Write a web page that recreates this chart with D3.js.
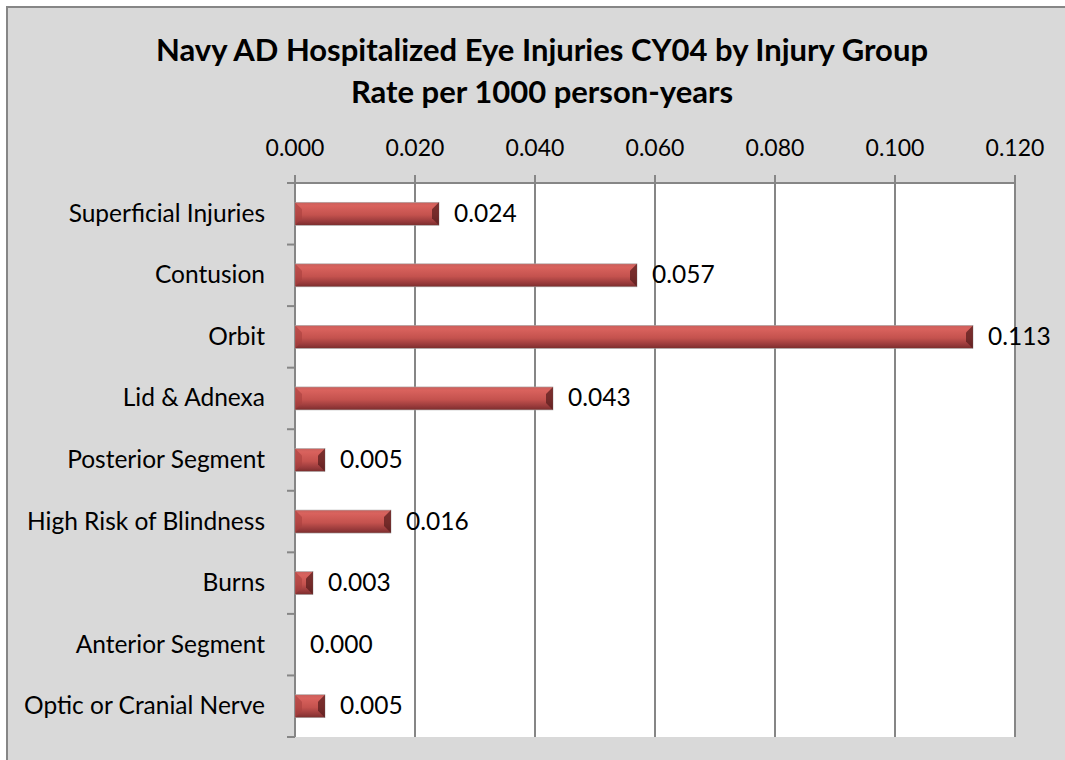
<!DOCTYPE html>
<html>
<head>
<meta charset="utf-8">
<script src="https://cdn.jsdelivr.net/npm/d3@7"></script>
<style>
  body { margin: 0; background: #fff; }
  text { font-family: Lato, "Open Sans", sans-serif; fill: #000; }
</style>
</head>
<body>
<div id="chart"></div>
<script>
const categories = ["Superficial Injuries", "Contusion", "Orbit", "Lid & Adnexa", "Posterior Segment",
    "High Risk of Blindness", "Burns", "Anterior Segment", "Optic or Cranial Nerve"]
const rates = [0.024, 0.057, 0.113, 0.043, 0.005, 0.016, 0.003, 0.000, 0.005]
const xTicks = [0, 0.02, 0.04, 0.06, 0.08, 0.1, 0.12]
const titleLines = ["Navy AD Hospitalized Eye Injuries CY04 by Injury Group", "Rate per 1000 person-years"]

let svg = d3.select("#chart")
    .append("svg")
    .attr("width", 1065)
    .attr("height", 760)

// chart area
svg.append("rect")
    .attr("x", 7).attr("y", 7)
    .attr("width", 1080).attr("height", 780)
    .attr("fill", "#d9d9d9")
    .attr("stroke", "#868686")
    .attr("stroke-width", 2)

let plotL = 295, plotR = 1015, plotT = 183, plotB = 737

let x = d3.scaleLinear().domain([0, 0.12]).range([plotL, plotR])
let y = d3.scaleBand().domain(categories).range([plotT, plotB])

svg.append("rect")
    .attr("x", plotL).attr("y", plotT)
    .attr("width", plotR - plotL).attr("height", plotB - plotT)
    .attr("fill", "#fff")

let defs = svg.append("defs")
let grad = defs.append("linearGradient")
    .attr("id", "barGrad")
    .attr("x1", 0).attr("y1", 0).attr("x2", 0).attr("y2", 1)
grad.append("stop").attr("offset", "0%").attr("stop-color", "#c9605c")
grad.append("stop").attr("offset", "15%").attr("stop-color", "#d9625d")
grad.append("stop").attr("offset", "55%").attr("stop-color", "#c4524e")
grad.append("stop").attr("offset", "85%").attr("stop-color", "#96393a")
grad.append("stop").attr("offset", "100%").attr("stop-color", "#7a2d2c")

// gridlines
svg.append("g")
    .selectAll("line")
    .data(xTicks)
    .join("line")
    .attr("x1", d => x(d)).attr("x2", d => x(d))
    .attr("y1", plotT - 8).attr("y2", plotB)
    .attr("stroke", "#868686")
    .attr("stroke-width", 2)

// top axis line
svg.append("line")
    .attr("x1", plotL).attr("x2", plotR)
    .attr("y1", plotT).attr("y2", plotT)
    .attr("stroke", "#868686")
    .attr("stroke-width", 2)

// left axis with band-boundary ticks
let bounds = categories.map(c => y(c)).concat([plotB])
svg.append("g")
    .selectAll("line")
    .data(bounds)
    .join("line")
    .attr("x1", plotL - 8).attr("x2", plotL)
    .attr("y1", d => d).attr("y2", d => d)
    .attr("stroke", "#868686")
    .attr("stroke-width", 2)

// x tick labels
svg.append("g")
    .selectAll("text")
    .data(xTicks)
    .join("text")
    .attr("x", d => x(d))
    .attr("y", 156)
    .attr("text-anchor", "middle")
    .style("font-size", "23px")
    .text(d => d3.format(".3f")(d))

// category labels
svg.append("g")
    .selectAll("text")
    .data(categories)
    .join("text")
    .attr("x", 265)
    .attr("y", d => y(d) + y.bandwidth() / 2 + 8)
    .attr("text-anchor", "end")
    .style("font-size", "24.5px")
    .text(d => d)

// bars
let barH = 23
let bars = svg.append("g")
    .selectAll("g")
    .data(categories.map((c, i) => ({ c: c, v: rates[i] })))
    .join("g")
    .attr("transform", d => "translate(0," + (y(d.c) + y.bandwidth() / 2 - barH / 2) + ")")

bars.append("rect")
    .attr("x", plotL)
    .attr("width", d => x(d.v) - plotL)
    .attr("height", barH)
    .attr("fill", "url(#barGrad)")
    .attr("stroke", d => d.v > 0 ? "#a8a8a8" : "none")
    .attr("stroke-width", 0.6)

// bevel ends
bars.filter(d => d.v > 0).append("path")
    .attr("d", d => {
        let e = x(d.v), b = Math.min(7, (e - plotL) / 2)
        return "M" + e + ",0 L" + (e - b) + "," + b + " L" + (e - b) + "," + (barH - b) + " L" + e + "," + barH + "Z"
    })
    .attr("fill", "#5a1e1e")
    .attr("opacity", 0.75)
bars.filter(d => d.v > 0).append("path")
    .attr("d", d => {
        let b = Math.min(7, (x(d.v) - plotL) / 2)
        return "M" + plotL + ",0 L" + (plotL + b) + "," + b + " L" + (plotL + b) + "," + (barH - b) + " L" + plotL + "," + barH + "Z"
    })
    .attr("fill", "#a8403d")
    .attr("opacity", 0.6)

// value labels
bars.append("text")
    .attr("x", d => x(d.v) + 15)
    .attr("y", barH / 2 + 8)
    .style("font-size", "24.5px")
    .text(d => d3.format(".3f")(d.v))

// title
svg.append("g")
    .selectAll("text")
    .data(titleLines)
    .join("text")
    .attr("x", 542)
    .attr("y", (d, i) => 61 + i * 42)
    .attr("text-anchor", "middle")
    .style("font-size", "31px")
    .style("font-weight", "bold")
    .text(d => d)
</script>
</body>
</html>
